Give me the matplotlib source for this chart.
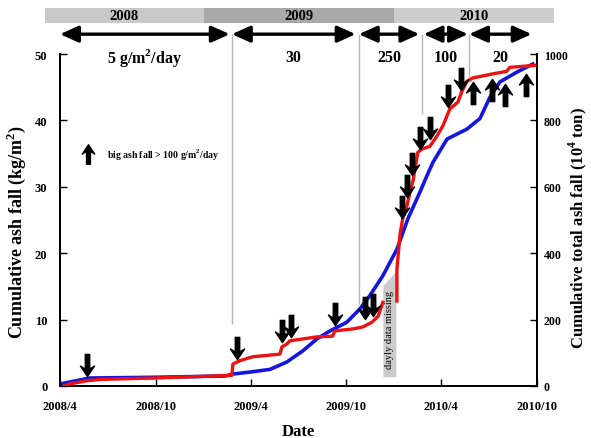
import numpy as np
import pandas as pd
import matplotlib
matplotlib.use('Agg')
import matplotlib.pyplot as plt
import matplotlib.dates as mdates
from matplotlib.path import Path
from matplotlib.patches import Rectangle

plt.rcParams['font.family'] = 'Liberation Serif'
plt.rcParams['font.weight'] = 'bold'
plt.rcParams['axes.labelweight'] = 'bold'
plt.rcParams['mathtext.fontset'] = 'custom'
plt.rcParams['mathtext.rm'] = 'Liberation Serif:bold'
plt.rcParams['mathtext.bf'] = 'Liberation Serif:bold'

# point record (kg/m2), split where daily data is missing
red_dates_a = pd.to_datetime([
    '2008-04-08', '2008-04-20', '2008-05-23', '2008-06-20', '2008-10-01',
    '2009-02-24', '2009-02-26', '2009-03-11', '2009-04-05', '2009-05-27',
    '2009-05-31', '2009-06-09', '2009-06-15', '2009-08-06', '2009-09-05',
    '2009-09-09', '2009-10-14', '2009-11-02', '2009-11-19', '2009-12-01',
    '2009-12-10'])
red_vals_a = [0.0, 0.3, 0.8, 1.0, 1.2,
              1.6, 3.3, 3.8, 4.4, 4.8,
              5.9, 6.3, 6.8, 7.4, 7.5,
              8.3, 8.6, 8.9, 9.6, 10.5,
              12.6]

red_dates_b = pd.to_datetime([
    '2010-01-06', '2010-01-06', '2010-01-12', '2010-01-17', '2010-01-25',
    '2010-01-31', '2010-02-06', '2010-02-15', '2010-02-23', '2010-03-10',
    '2010-03-24', '2010-04-04', '2010-04-17', '2010-05-03', '2010-05-10',
    '2010-05-20', '2010-05-31', '2010-07-07', '2010-08-04', '2010-08-10',
    '2010-09-27'])
red_vals_b = [12.8, 17.6, 22.9, 25.2, 27.1,
              29.2, 31.0, 35.2, 35.7, 36.1,
              37.7, 39.2, 41.7, 42.8, 44.3,
              45.9, 46.4, 47.0, 47.4, 48.0,
              48.3]

# total ash fall (10^4 ton)
blue_dates = pd.to_datetime([
    '2008-04-01', '2008-04-07', '2008-05-28', '2008-09-20', '2009-02-11',
    '2009-02-26', '2009-03-31', '2009-05-08', '2009-06-09', '2009-07-10',
    '2009-08-06', '2009-08-31', '2009-10-02', '2009-10-27', '2009-11-15',
    '2009-12-10', '2010-01-06', '2010-01-27', '2010-02-19', '2010-03-04',
    '2010-03-16', '2010-04-12', '2010-05-20', '2010-06-14', '2010-07-03',
    '2010-07-22', '2010-08-24', '2010-09-23'])
blue_vals = [4, 8, 24, 26, 30,
             36, 42, 50, 72, 106,
             142, 166, 192, 232, 272,
             332, 412, 504, 584, 632,
             674, 744, 774, 806, 870,
             916, 946, 970]

# big ash fall events (marker centres, kg/m2)
down_dates = pd.to_datetime([
    '2008-05-23', '2009-03-06', '2009-05-31', '2009-06-18', '2009-09-09',
    '2009-11-06', '2009-11-21', '2010-01-15', '2010-01-25', '2010-02-04',
    '2010-02-19', '2010-03-10', '2010-04-14', '2010-05-08'])
down_vals = [3.2, 5.7, 8.3, 9.0, 10.8,
             11.7, 12.2, 27.0, 30.1, 33.4,
             37.3, 38.9, 43.7, 46.2]
up_dates = pd.to_datetime(['2010-05-31', '2010-07-07', '2010-08-01', '2010-09-10'])
up_vals = [44.1, 44.6, 43.8, 45.3]

# ash fall rate periods
period_starts = pd.to_datetime(['2008-04-01', '2009-02-24', '2009-10-25', '2010-02-26', '2010-05-24'])
period_ends = pd.to_datetime(['2009-02-20', '2009-10-19', '2010-02-18', '2010-05-22', '2010-09-21'])
period_labels = ['5 g/m$^2$/day', '30', '250', '100', '20']
split_dates = pd.to_datetime(['2009-02-24', '2009-10-25', '2010-02-23', '2010-05-24'])
split_bottoms = [9.3, 12.3, 41.0, 46.5]

year_starts = pd.to_datetime(['2008-03-03', '2009-01-01', '2010-01-01'])
year_ends = pd.to_datetime(['2009-01-01', '2010-01-01', '2010-11-02'])
year_labels = ['2008', '2009', '2010']
year_colors = ['#c9c9c9', '#a9a9a9', '#cdcdcd']

missing_start = pd.Timestamp('2009-12-10')
missing_end = pd.Timestamp('2010-01-04')

xtick_dates = pd.to_datetime(['2008-04-01', '2008-10-01', '2009-04-01',
                              '2009-10-01', '2010-04-01', '2010-10-01'])
xtick_labels = ['2008/4', '2008/10', '2009/4', '2009/10', '2010/4', '2010/10']

# arrow glyph pointing down
arrow_verts = [(0, -11), (7, -0.5), (2.2, -3.5), (2.2, 11), (-2.2, 11),
               (-2.2, -3.5), (-7, -0.5), (0, -11)]
down_arrow = Path(arrow_verts, closed=True)
up_arrow = Path([(x, -y) for x, y in arrow_verts], closed=True)

fig = plt.figure(figsize=(5.91, 4.39), dpi=100)
ax = fig.add_axes([0.1015, 0.1185, 0.807, 0.756])
ax2 = ax.twinx()
ax.set_zorder(ax2.get_zorder() + 1)
ax.patch.set_visible(False)

ax.set_xlim(pd.Timestamp('2008-04-01'), pd.Timestamp('2010-10-01'))
ax.set_ylim(0, 50)
ax2.set_ylim(0, 1000)

ax2.plot(blue_dates, blue_vals, color='#1515e0', lw=2.6, solid_joinstyle='round')

# missing-data band
ax.fill_between([missing_start, missing_end], [1.4, 1.4], [15.1, 17.3],
                color='#cbcbcb', lw=0, zorder=1)
ax.text(missing_start + (missing_end - missing_start) / 2, 8.6, 'dayly data missing',
        rotation=90, ha='center', va='center', fontsize=7.5, fontweight='normal')

ax.plot(red_dates_a, red_vals_a, color='#ee1111', lw=2.4, zorder=3)
ax.plot(red_dates_b, red_vals_b, color='#ee1111', lw=2.4, zorder=3)

ax.plot(down_dates, down_vals, ls='', marker=down_arrow, ms=16, color='k', zorder=4)
ax.plot(up_dates, up_vals, ls='', marker=up_arrow, ms=16, color='k', zorder=4)

# legend for the arrows
ax.plot([0.059], [0.699], ls='', marker=up_arrow, ms=14, color='k', transform=ax.transAxes)
ax.text(0.0985, 0.699, 'big ash fall > 100 g/m$^2$/day', transform=ax.transAxes,
        fontsize=7, va='center', ha='left')

# period dividers and double arrows
ax.vlines(split_dates, split_bottoms, 53.0, color='#b5b5b5', lw=1, clip_on=False, zorder=0)
for s, e, lab in zip(period_starts, period_ends, period_labels):
    ax.annotate('', xy=(e, 53.0), xytext=(s, 53.0), annotation_clip=False,
                arrowprops=dict(arrowstyle='<|-|>,head_length=1.0,head_width=0.45',
                                mutation_scale=11, lw=2.4, color='k',
                                shrinkA=0, shrinkB=0))
    ax.text(s + (e - s) / 2, 49.6, lab, ha='center', va='center', fontsize=11.5)

# year band above the plot
for s, e, lab, c in zip(year_starts, year_ends, year_labels, year_colors):
    x0 = mdates.date2num(s)
    x1 = mdates.date2num(e)
    ax.add_patch(Rectangle((x0, 54.7), x1 - x0, 2.2, color=c, lw=0, clip_on=False))
    ax.text((x0 + x1) / 2, 55.8, lab, ha='center', va='center', fontsize=10.5)

for a in (ax, ax2):
    a.spines['top'].set_visible(False)
    a.spines['left'].set_linewidth(1.3)
    a.spines['right'].set_linewidth(1.3)
    a.spines['bottom'].set_linewidth(1.3)

ax.set_xticks(xtick_dates)
ax.set_xticklabels(xtick_labels)
ax.set_yticks(np.arange(0, 51, 10))
ax2.set_yticks(np.arange(0, 1001, 200))
ax.tick_params(axis='x', direction='in', length=5, width=1, labelsize=9, pad=10)
ax.tick_params(axis='y', direction='in', length=5, width=1, labelsize=9, pad=9)
ax2.tick_params(axis='y', direction='in', length=5, width=1, labelsize=8.5, pad=5)

ax.set_xlabel('Date', fontsize=12, labelpad=8)
ax.set_ylabel('Cumulative ash fall (kg/m$^2$)', fontsize=13)
ax2.set_ylabel('Cumulative total ash fall (10$^4$ ton)', fontsize=12)
ax.yaxis.set_label_coords(-0.068, 0.467)
ax2.yaxis.set_label_coords(1.063, 0.48)

fig.savefig('out.png', dpi=100)
